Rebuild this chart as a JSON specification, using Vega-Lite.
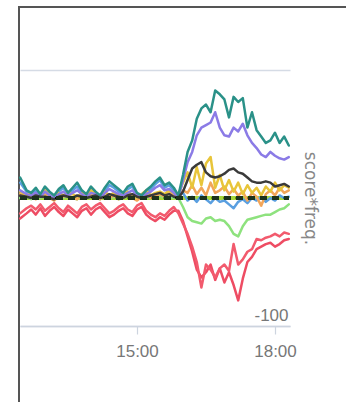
{
  "$schema": "https://vega.github.io/schema/vega-lite/v6.json",
  "autosize": "none",
  "padding": {"left": 19, "top": 7, "right": 0, "bottom": 0},
  "width": 340,
  "height": 400,
  "background": "white",
  "config": {
    "view": {"stroke": "#555555", "strokeWidth": 2},
    "font": "Liberation Sans"
  },
  "data": {
    "values": [
      {"t": 12.46, "tl": 16, "pu": 6, "bk": 2, "ye": 5, "or": 3, "bl": 12, "gr": 0, "ra": -12, "rb": -16},
      {"t": 12.6, "tl": 6, "pu": 3, "bk": 1, "ye": 2, "or": 1, "bl": 5, "gr": 1, "ra": -8, "rb": -12},
      {"t": 12.7, "tl": 4, "pu": 2, "bk": 0, "ye": 4, "or": 2, "bl": 3, "gr": -1, "ra": -6, "rb": -9},
      {"t": 12.8, "tl": 8, "pu": 4, "bk": 2, "ye": 1, "or": -1, "bl": 6, "gr": 1, "ra": -9, "rb": -13},
      {"t": 12.9, "tl": 3, "pu": 1, "bk": 1, "ye": 3, "or": 2, "bl": 1, "gr": 0, "ra": -5, "rb": -8},
      {"t": 13.0, "tl": 9, "pu": 5, "bk": 1, "ye": 6, "or": 3, "bl": 7, "gr": 2, "ra": -10, "rb": -14},
      {"t": 13.1, "tl": 5, "pu": 2, "bk": 0, "ye": 2, "or": 0, "bl": 4, "gr": 0, "ra": -7, "rb": -10},
      {"t": 13.2, "tl": 2, "pu": 0, "bk": -1, "ye": 0, "or": -2, "bl": 1, "gr": -1, "ra": -4, "rb": -7},
      {"t": 13.3, "tl": 7, "pu": 3, "bk": 1, "ye": 4, "or": 2, "bl": 5, "gr": 1, "ra": -8, "rb": -11},
      {"t": 13.4, "tl": 10, "pu": 5, "bk": 2, "ye": 2, "or": 1, "bl": 8, "gr": 0, "ra": -11, "rb": -14},
      {"t": 13.5, "tl": 4, "pu": 2, "bk": 1, "ye": 5, "or": 3, "bl": 3, "gr": 2, "ra": -6, "rb": -9},
      {"t": 13.6, "tl": 8, "pu": 4, "bk": 0, "ye": 3, "or": 0, "bl": 6, "gr": 0, "ra": -9, "rb": -12},
      {"t": 13.7, "tl": 12, "pu": 6, "bk": 2, "ye": 1, "or": -1, "bl": 9, "gr": -1, "ra": -12, "rb": -15},
      {"t": 13.8, "tl": 6, "pu": 3, "bk": 1, "ye": 4, "or": 2, "bl": 4, "gr": 1, "ra": -7, "rb": -10},
      {"t": 13.9, "tl": 3, "pu": 1, "bk": 0, "ye": 2, "or": 0, "bl": 2, "gr": 0, "ra": -5, "rb": -8},
      {"t": 14.0, "tl": 9, "pu": 4, "bk": 1, "ye": 6, "or": 3, "bl": 7, "gr": 1, "ra": -9, "rb": -13},
      {"t": 14.1, "tl": 5, "pu": 3, "bk": 2, "ye": 3, "or": 1, "bl": 4, "gr": 0, "ra": -6, "rb": -9},
      {"t": 14.2, "tl": 2, "pu": 0, "bk": 0, "ye": 1, "or": -1, "bl": 1, "gr": -1, "ra": -4, "rb": -7},
      {"t": 14.3, "tl": 8, "pu": 4, "bk": 1, "ye": 5, "or": 2, "bl": 6, "gr": 1, "ra": -8, "rb": -11},
      {"t": 14.4, "tl": 13, "pu": 7, "bk": 3, "ye": 2, "or": 0, "bl": 10, "gr": 0, "ra": -12, "rb": -15},
      {"t": 14.5, "tl": 10, "pu": 5, "bk": 2, "ye": 4, "or": 2, "bl": 8, "gr": 1, "ra": -10, "rb": -13},
      {"t": 14.6, "tl": 7, "pu": 3, "bk": 1, "ye": 1, "or": -1, "bl": 5, "gr": -1, "ra": -7, "rb": -10},
      {"t": 14.7, "tl": 4, "pu": 2, "bk": 0, "ye": 3, "or": 1, "bl": 3, "gr": 0, "ra": -5, "rb": -8},
      {"t": 14.8, "tl": 9, "pu": 4, "bk": 2, "ye": 5, "or": 3, "bl": 7, "gr": 2, "ra": -9, "rb": -12},
      {"t": 14.9, "tl": 11, "pu": 6, "bk": 3, "ye": 2, "or": 0, "bl": 9, "gr": 0, "ra": -11, "rb": -14},
      {"t": 15.0, "tl": 4, "pu": 2, "bk": 1, "ye": 0, "or": -2, "bl": 3, "gr": -1, "ra": -6, "rb": -9},
      {"t": 15.1, "tl": 2, "pu": 0, "bk": 0, "ye": 3, "or": 1, "bl": 1, "gr": 0, "ra": -4, "rb": -7},
      {"t": 15.2, "tl": 6, "pu": 3, "bk": 1, "ye": 6, "or": 3, "bl": 5, "gr": 1, "ra": -10, "rb": -13},
      {"t": 15.3, "tl": 9, "pu": 5, "bk": 2, "ye": 2, "or": 0, "bl": 7, "gr": 0, "ra": -13, "rb": -16},
      {"t": 15.4, "tl": 13, "pu": 8, "bk": 3, "ye": 4, "or": 2, "bl": 11, "gr": 1, "ra": -15, "rb": -18},
      {"t": 15.5, "tl": 16, "pu": 10, "bk": 4, "ye": 5, "or": 3, "bl": 14, "gr": 2, "ra": -12, "rb": -15},
      {"t": 15.6, "tl": 10, "pu": 6, "bk": 2, "ye": 3, "or": 1, "bl": 8, "gr": 0, "ra": -14, "rb": -17},
      {"t": 15.7, "tl": 12, "pu": 7, "bk": 3, "ye": 6, "or": 4, "bl": 10, "gr": 1, "ra": -10, "rb": -13},
      {"t": 15.8, "tl": 8, "pu": 4, "bk": 1, "ye": 4, "or": 2, "bl": 6, "gr": 0, "ra": -7, "rb": -10},
      {"t": 15.9, "tl": 2, "pu": 0, "bk": 0, "ye": 3, "or": 0, "bl": 2, "gr": 0, "ra": -12, "rb": -10},
      {"t": 16.0, "tl": 18, "pu": 14, "bk": 5, "ye": 12, "or": 6, "bl": 4, "gr": -7, "ra": -20, "rb": -18},
      {"t": 16.1, "tl": 36, "pu": 28, "bk": 14, "ye": 20, "or": 4, "bl": -2, "gr": -15, "ra": -28, "rb": -30},
      {"t": 16.2, "tl": 45, "pu": 36, "bk": 23, "ye": 8, "or": 10, "bl": 1, "gr": -18, "ra": -38, "rb": -42},
      {"t": 16.3, "tl": 62, "pu": 49, "bk": 26, "ye": 24, "or": 3, "bl": -3, "gr": -19, "ra": -50, "rb": -56},
      {"t": 16.4, "tl": 70, "pu": 55, "bk": 28, "ye": 10, "or": 8, "bl": 2, "gr": -20, "ra": -70, "rb": -62},
      {"t": 16.5, "tl": 73, "pu": 57, "bk": 20, "ye": 27, "or": 2, "bl": -1, "gr": -16, "ra": -52, "rb": -58},
      {"t": 16.6, "tl": 67, "pu": 59, "bk": 17, "ye": 32, "or": 12, "bl": -4, "gr": -15, "ra": -56, "rb": -52},
      {"t": 16.7, "tl": 84, "pu": 67, "bk": 16, "ye": 8, "or": 4, "bl": 0, "gr": -18, "ra": -62, "rb": -64},
      {"t": 16.8, "tl": 81, "pu": 55, "bk": 17, "ye": 18, "or": 6, "bl": -3, "gr": -17, "ra": -55, "rb": -55},
      {"t": 16.9, "tl": 77, "pu": 49, "bk": 19, "ye": 6, "or": 9, "bl": -2, "gr": -18, "ra": -52, "rb": -66},
      {"t": 17.0, "tl": 63, "pu": 48, "bk": 22, "ye": 14, "or": 3, "bl": -5, "gr": -22, "ra": -57, "rb": -58},
      {"t": 17.1, "tl": 79, "pu": 55, "bk": 23, "ye": 5, "or": 7, "bl": -8, "gr": -28, "ra": -36, "rb": -68},
      {"t": 17.2, "tl": 75, "pu": 52, "bk": 20, "ye": 12, "or": 2, "bl": -3, "gr": -30, "ra": -52, "rb": -80},
      {"t": 17.3, "tl": 78, "pu": 58, "bk": 19, "ye": 3, "or": 5, "bl": -1, "gr": -22, "ra": -48, "rb": -63},
      {"t": 17.4, "tl": 55, "pu": 49, "bk": 16, "ye": 10, "or": -2, "bl": -4, "gr": -17, "ra": -42, "rb": -50},
      {"t": 17.5, "tl": 67, "pu": 43, "bk": 13, "ye": 4, "or": 4, "bl": 0, "gr": -16, "ra": -40, "rb": -46},
      {"t": 17.6, "tl": 53, "pu": 39, "bk": 12, "ye": 8, "or": 1, "bl": -2, "gr": -15, "ra": -32, "rb": -40},
      {"t": 17.7, "tl": 48, "pu": 34, "bk": 12, "ye": 2, "or": -6, "bl": 1, "gr": -14, "ra": -33, "rb": -38},
      {"t": 17.8, "tl": 43, "pu": 32, "bk": 13, "ye": 9, "or": 3, "bl": -3, "gr": -13, "ra": -31, "rb": -36},
      {"t": 17.9, "tl": 45, "pu": 36, "bk": 12, "ye": 5, "or": 6, "bl": 0, "gr": -13, "ra": -30, "rb": -35},
      {"t": 18.0, "tl": 51, "pu": 33, "bk": 9, "ye": 12, "or": 2, "bl": -2, "gr": -11, "ra": -28, "rb": -38},
      {"t": 18.1, "tl": 43, "pu": 31, "bk": 10, "ye": 6, "or": 8, "bl": 2, "gr": -9, "ra": -30, "rb": -36},
      {"t": 18.2, "tl": 48, "pu": 30, "bk": 11, "ye": 10, "or": 4, "bl": 0, "gr": -8, "ra": -27, "rb": -33},
      {"t": 18.3, "tl": 41, "pu": 32, "bk": 9, "ye": 8, "or": 6, "bl": 1, "gr": -5, "ra": -28, "rb": -32}
    ]
  },
  "encoding": {
    "x": {
      "field": "t",
      "type": "quantitative",
      "scale": {"domain": [12.457, 18.326], "range": [1, 271], "nice": false, "zero": false},
      "axis": {
        "orient": "bottom",
        "offset": -81,
        "values": [15, 18],
        "labelExpr": "datum.value + ':00'",
        "title": null,
        "grid": false,
        "domainColor": "#cdd4df",
        "domainWidth": 1.5,
        "tickColor": "#cdd4df",
        "tickWidth": 1.2,
        "tickSize": 8,
        "labelFont": "Liberation Sans",
        "labelFontSize": 17,
        "labelColor": "#777777",
        "labelPadding": 9,
        "labelFlush": false,
        "labelOverlap": false
      }
    }
  },
  "resolve": {"axis": {"y": "independent"}},
  "layer": [
    {
      "mark": {"type": "rule", "color": "#a9d63f", "strokeWidth": 2.5},
      "encoding": {
        "x": {"datum": 12.457},
        "x2": {"datum": 18.3},
        "y": {
          "datum": 0,
          "type": "quantitative",
          "scale": {"domain": [-100, 100], "range": [319, 63], "nice": false, "zero": false},
          "axis": {
            "orient": "left",
            "values": [-100, 100],
            "grid": true,
            "gridColor": "#d5dbe5",
            "gridWidth": 1.5,
            "domain": false,
            "ticks": false,
            "labels": false,
            "title": null
          }
        }
      }
    },
    {
      "transform": [
        {"fold": ["rb", "ra", "gr", "bl", "or", "ye", "pu", "tl", "bk"], "as": ["s", "v"]}
      ],
      "mark": {"type": "line", "strokeWidth": 2.5, "strokeJoin": "round", "strokeCap": "round"},
      "encoding": {
        "y": {"field": "v", "type": "quantitative", "axis": null},
        "color": {
          "field": "s",
          "type": "nominal",
          "legend": null,
          "scale": {
            "domain": ["rb", "ra", "gr", "bl", "or", "ye", "pu", "tl", "bk"],
            "range": ["#ee4c63", "#f25a6d", "#8ee27e", "#5a9fe0", "#f2a65a", "#e8c53a", "#8b7be6", "#2a9188", "#3a3a3a"]
          }
        }
      }
    },
    {
      "mark": {"type": "rule", "color": "#1d331d", "strokeWidth": 2.5, "strokeDash": [7, 5]},
      "encoding": {
        "x": {"datum": 12.457},
        "x2": {"datum": 18.3},
        "y": {
          "datum": 0,
          "type": "quantitative",
          "axis": {
            "orient": "right",
            "offset": -69,
            "values": [-100],
            "labelExpr": "'-100'",
            "grid": false,
            "domain": false,
            "ticks": false,
            "labelAlign": "right",
            "labelPadding": -2,
            "labelBaseline": "alphabetic",
            "labelOffset": -6,
            "labelFont": "Liberation Sans",
            "labelFontSize": 17,
            "labelColor": "#777777",
            "labelFlush": false,
            "labelOverlap": false,
            "title": "score*freq.",
            "titleAngle": 90,
            "titleFont": "DejaVu Sans",
            "titleFontSize": 17,
            "titleFontWeight": "normal",
            "titleColor": "#888888",
            "titlePadding": 10
          }
        }
      }
    }
  ]
}
